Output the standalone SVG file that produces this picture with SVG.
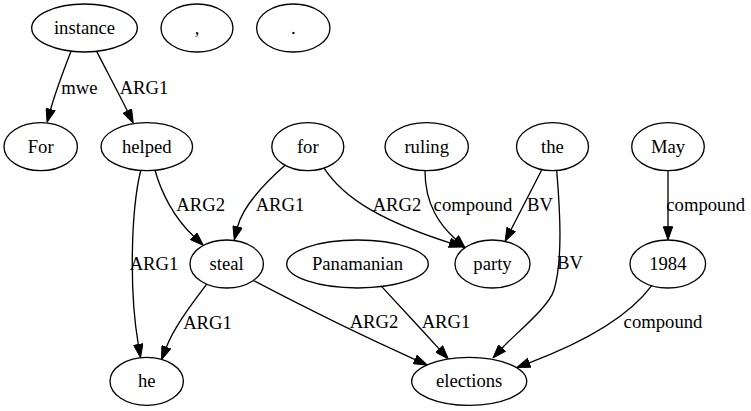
<svg xmlns="http://www.w3.org/2000/svg" width="751" height="411" viewBox="0 0 751 411">
<style>
.node ellipse{fill:none;stroke:#000;stroke-width:1.33}
text{font-family:'Liberation Serif','DejaVu Serif','Noto Serif',serif;font-size:18.67px;text-anchor:middle;fill:#000}
.edges path{fill:none;stroke:#000;stroke-width:1.33;marker-end:url(#arr)}
</style>
<defs>
<marker id="arr" markerUnits="userSpaceOnUse" viewBox="0 0 14 10" markerWidth="14" markerHeight="10" refX="0.5" refY="5" orient="auto">
<path d="M0.5,0.33 L13.8,5 L0.5,9.67 z" fill="#000" stroke="#000" stroke-width="1"/>
</marker>
</defs>
<rect width="751" height="411" fill="#fff"/>
<g font-family="Liberation Serif, DejaVu Serif, serif">
<g id="n_instance" class="node"><ellipse cx="84.5" cy="28" rx="52.8" ry="24"/><text x="84.5" y="34">instance</text></g>
<g id="n_comma" class="node"><ellipse cx="197" cy="28" rx="36" ry="24"/><text x="197" y="34">,</text></g>
<g id="n_period" class="node"><ellipse cx="293.3" cy="28" rx="36.7" ry="24"/><text x="293.3" y="34">.</text></g>
<g id="n_For" class="node"><ellipse cx="40.7" cy="146.7" rx="36.7" ry="24"/><text x="40.7" y="152.7">For</text></g>
<g id="n_helped" class="node"><ellipse cx="146.8" cy="146.7" rx="45.8" ry="24"/><text x="146.8" y="152.7">helped</text></g>
<g id="n_for" class="node"><ellipse cx="307.8" cy="146.7" rx="36" ry="24"/><text x="307.8" y="152.7">for</text></g>
<g id="n_ruling" class="node"><ellipse cx="426.7" cy="146.7" rx="41.7" ry="24"/><text x="426.7" y="152.7">ruling</text></g>
<g id="n_the" class="node"><ellipse cx="552.5" cy="146.7" rx="36" ry="24"/><text x="552.5" y="152.7">the</text></g>
<g id="n_May" class="node"><ellipse cx="668" cy="146.7" rx="36.3" ry="24"/><text x="668" y="152.7">May</text></g>
<g id="n_steal" class="node"><ellipse cx="226.7" cy="264" rx="36.7" ry="24"/><text x="226.7" y="270">steal</text></g>
<g id="n_Panamanian" class="node"><ellipse cx="357.5" cy="264" rx="70.8" ry="24"/><text x="357.5" y="270">Panamanian</text></g>
<g id="n_party" class="node"><ellipse cx="492.5" cy="264" rx="37.5" ry="24"/><text x="492.5" y="270">party</text></g>
<g id="n_1984" class="node"><ellipse cx="667.8" cy="264" rx="37.8" ry="24"/><text x="667.8" y="270">1984</text></g>
<g id="n_he" class="node"><ellipse cx="146.7" cy="381.3" rx="36.7" ry="24"/><text x="146.7" y="387.3">he</text></g>
<g id="n_elections" class="node"><ellipse cx="469.2" cy="381.3" rx="57.5" ry="24"/><text x="469.2" y="387.3">elections</text></g>
<g id="connectors" class="edges">
<path d="M71,51.3 C65,67 56,90 50.6,109.5"/>
<text x="79.5" y="94">mwe</text>
<path d="M96.7,51.4 C104,66 118,92 127.4,111.1"/>
<text x="144" y="94">ARG1</text>
<path d="M140.7,170.5 C131,210 129,290 138.3,344.5"/>
<text x="154" y="270">ARG1</text>
<path d="M155,170.3 C161,192 174,218 193.7,236.3"/>
<text x="200.7" y="211">ARG2</text>
<path d="M285,165.3 C265,183 243,205 237.5,227"/>
<text x="280" y="211">ARG1</text>
<path d="M324,168.1 C345,200 385,222 449.9,242.9"/>
<text x="397" y="211">ARG2</text>
<path d="M425,170.7 C425,205 440,225 455.5,239.2"/>
<text x="473" y="211">compound</text>
<path d="M541.7,170 C535,183 520,212 511.1,229.5"/>
<text x="540" y="211">BV</text>
<path d="M556.7,170.5 C560,210 563,260 554,290 C549,307 515,334 502,348.2"/>
<text x="570" y="269">BV</text>
<path d="M668,170.7 L668,226.7"/>
<text x="705.7" y="211">compound</text>
<path d="M206.7,284.1 C195,300 175,325 166.3,347.3"/>
<text x="207.5" y="329">ARG1</text>
<path d="M253.3,280.5 C300,305 360,335 415.2,359.6"/>
<text x="374" y="328">ARG2</text>
<path d="M381.7,286.6 C398,304 420,328 439.3,349.1"/>
<text x="446" y="328">ARG1</text>
<path d="M651.7,285.7 C630,315 590,340 529.2,362.8"/>
<text x="663" y="328">compound</text>
</g>
</g>
</svg>
